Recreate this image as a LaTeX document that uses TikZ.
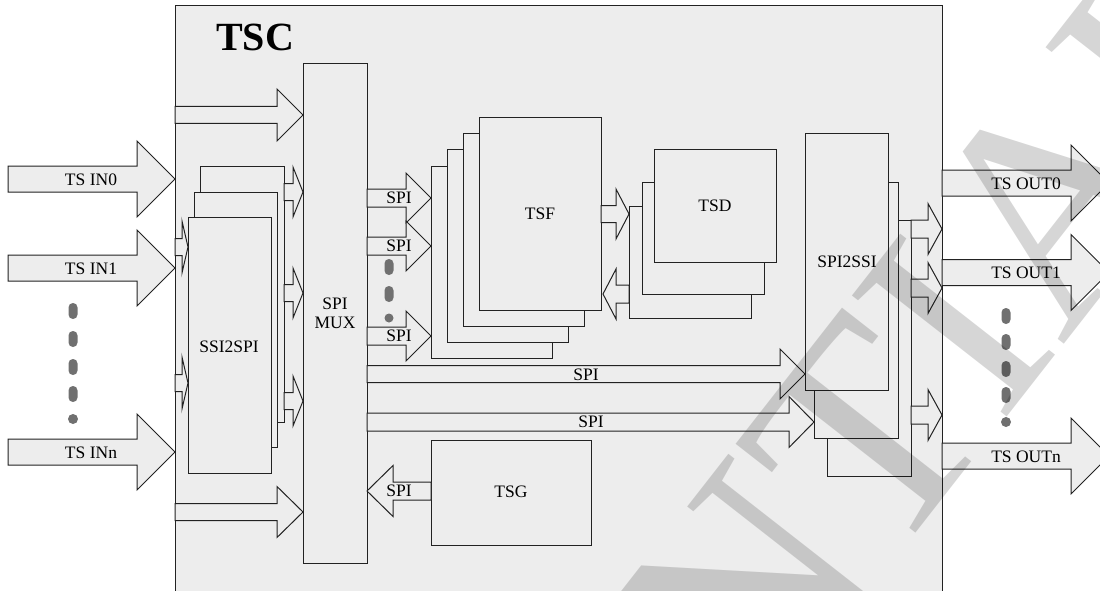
\documentclass[tikz,border=0pt]{standalone}
\usepackage{fontspec}
\setmainfont{Liberation Serif}
\definecolor{bg}{HTML}{EDEDED}
\definecolor{ln}{HTML}{222222}
\definecolor{dotc}{HTML}{707070}
\newcommand\rarr[6]{\filldraw[arr] (#1,#3-#4) -- (#2-#6,#3-#4) -- (#2-#6,#3-#5) -- (#2,#3) -- (#2-#6,#3+#5) -- (#2-#6,#3+#4) -- (#1,#3+#4) -- cycle;}
\newcommand\larr[6]{\filldraw[arr] (#2,#3-#4) -- (#1+#6,#3-#4) -- (#1+#6,#3-#5) -- (#1,#3) -- (#1+#6,#3+#5) -- (#1+#6,#3+#4) -- (#2,#3+#4) -- cycle;}
\newcommand\pill[2]{\fill[dotc, rounded corners=4.4pt] (#1-4.5,#2-8) rectangle (#1+4.5,#2+8);}
\newcommand\bx[4]{\draw[box] (#1,#2) rectangle (#3,#4);}
\begin{document}
\begin{tikzpicture}[x=1pt,y=-1pt,
  box/.style={draw=ln, fill=bg, line width=1pt},
  arr/.style={draw=ln, fill=bg, line width=1pt, line join=miter},
  lbl/.style={font=\fontsize{17.5}{19}\selectfont, inner sep=0pt, text=black}]
\useasboundingbox (0,0) rectangle (1100,591);
\clip (0,0) rectangle (1100,591);
% main TSC box
\draw[box] (175,6) rectangle (942,620);
\node[font=\fontsize{40}{40}\selectfont\bfseries, inner sep=0pt] (tsc) at (255,37) {TSC};
% input arrows
\rarr{8}{175}{179}{13}{38}{38}
\rarr{8}{175}{268}{13}{38}{38}
\rarr{8}{175}{452}{13}{38}{38}
\node[lbl] (in0) at (91,180) {TS IN0};
\node[lbl] (in1) at (91,269) {TS IN1};
\node[lbl] (inn) at (91,453) {TS INn};
\pill{73}{311}\pill{73}{339}\pill{73}{367}\pill{73}{394}
\fill[dotc] (73,419) circle (5);
% output arrows
\rarr{942}{1109}{183}{13}{38}{38}
\rarr{942}{1109}{272.5}{13}{38}{38}
\rarr{942}{1109}{456}{13}{38}{38}
\node[lbl] (out0) at (1026,184) {TS OUT0};
\node[lbl] (out1) at (1026,273) {TS OUT1};
\node[lbl] (outn) at (1026,457) {TS OUTn};
\pill{1006}{316}\pill{1006}{342}\pill{1006}{369}\pill{1006}{395}
\fill[dotc] (1006,422) circle (5);
% arrows to MUX from TSC edge
\rarr{175}{303}{115}{8.5}{26}{26}
\rarr{175}{303}{512}{8.5}{25.5}{26}
% SSI2SPI stack
\bx{200}{166}{284}{422}
\bx{194}{192}{277}{447}
\bx{188}{217}{271}{473}
\node[lbl] (ssi2spi) at (229,347) {SSI2SPI};
\rarr{175}{188}{247}{8.5}{26}{6}
\rarr{175}{188}{383}{8.5}{26}{6}
\rarr{284}{303}{192}{8.5}{25}{10}
\rarr{284}{303}{293}{8.5}{25}{10}
\rarr{284}{303}{401}{8.5}{25}{10}
% SPI MUX
\bx{303}{64}{367}{563}
\node[lbl, align=center] (mux) at (335,313) {SPI\\MUX};
% SPI arrows to TSF
\rarr{367}{431}{198}{9}{25}{25}
\rarr{367}{431}{246}{9}{25}{25}
\rarr{367}{431}{336}{9}{25}{25}
\node[lbl] (s1) at (399,198) {SPI};
\node[lbl] (s2) at (399,246) {SPI};
\node[lbl] (s3) at (399,336) {SPI};
\pill{389}{267}\pill{389}{294}
\fill[dotc] (389,318) circle (4.5);
% TSF stack
\bx{431}{166}{552}{358}
\bx{447}{150}{568}{342}
\bx{463}{134}{584}{326}
\bx{479}{118}{601}{310}
\node[lbl] (tsf) at (540,214) {TSF};
% TSF <-> TSD
\rarr{601}{629}{214}{8.5}{25}{13}
\larr{603}{629}{294}{9}{25}{13}
% TSD stack
\bx{629}{206}{751}{318}
\bx{642}{182}{764}{294}
\bx{654}{150}{776}{262}
\node[lbl] (tsd) at (715,206) {TSD};
% long SPI arrows
\rarr{367}{805}{374}{8.5}{25}{25}
\rarr{367}{814}{422}{9}{25.5}{25}
\node[lbl] (sa) at (586,375) {SPI};
\node[lbl] (sb) at (591,422) {SPI};
% SPI2SSI stack
\bx{827}{220}{911}{476}
\bx{814}{182}{898}{438}
\bx{805}{134}{888}{390}
\node[lbl] (spi2ssi) at (847,262) {SPI2SSI};
\rarr{911}{942}{229}{9}{25.5}{14}
\rarr{911}{942}{288}{9}{25.5}{14}
\rarr{911}{942}{415}{9}{25.5}{14}
% TSG
\bx{431}{440}{591}{545}
\node[lbl] (tsg) at (511,492) {TSG};
\larr{367}{431}{491}{9}{25.5}{26}
\node[lbl] (sg) at (399,491) {SPI};
% watermark
\node[rotate=52, anchor=base west, text=black, text opacity=0.16, inner sep=0pt,
  font=\fontsize{300}{300}\selectfont] (wm) at (-46,1765) {CONFIDENTIAL};
\end{tikzpicture}
\end{document}
